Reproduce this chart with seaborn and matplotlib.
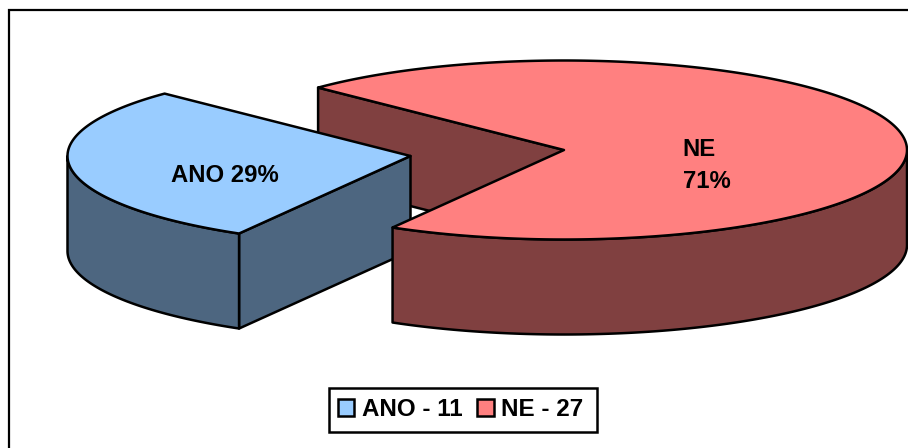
import numpy as np
import matplotlib
matplotlib.use("Agg")
import matplotlib.pyplot as plt
from matplotlib.patches import Polygon, Patch, Rectangle
import seaborn as sns

# Survey answers
categories = ["ANO", "NE"]
counts = [11, 27]
slice_labels = ["ANO 29%", "NE\n71%"]
legend_labels = ["ANO - 11", "NE - 27"]
top_colors = ["#99CCFF", "#FF8080"]
side_colors = ["#4D6680", "#804040"]

sns.set_theme(style="white")
plt.rcParams["font.family"] = ["Liberation Sans", "DejaVu Sans"]
plt.rcParams["text.color"] = "black"

fig, ax = plt.subplots(figsize=(9.08, 4.48), dpi=100)
ax.set_position([0, 0, 1, 1])
ax.set_xlim(0, 908)
ax.set_ylim(448, 0)
ax.axis("off")

# Projection of the tilted disc
RX, RY, DEPTH = 343.0, 89.5, 95.0
CENTER_NE = np.array([564.0, 150.0])
CENTER_ANO = np.array([410.5, 156.0])
START_DEG = 135.8
LW = 1.8


def rim(center, a0, a1, n=200):
    """Points on the elliptical rim; angles grow clockwise on screen."""
    t = np.radians(np.linspace(a0, a1, n))
    return np.column_stack([center[0] + RX * np.cos(t), center[1] - RY * np.sin(t)])


def face(points, color, zorder):
    ax.add_patch(Polygon(points, closed=True, facecolor=color, edgecolor="black",
                         linewidth=LW, joinstyle="round", zorder=zorder))


shares = np.array(counts) / sum(counts) * 360.0
ano_a0, ano_a1 = START_DEG, START_DEG + shares[0]
ne_a0, ne_a1 = ano_a1, ano_a1 + shares[1]
drop = np.array([0.0, DEPTH])

# Inner wall of the large slice, seen through the gap
back_edge = rim(CENTER_NE, ne_a1, ne_a1, 1)[0]
face([back_edge, CENTER_NE, CENTER_NE + drop, back_edge + drop], side_colors[1], 1)

# Detached small slice: cut wall, outer wall, top
front_corner = rim(CENTER_ANO, ano_a1, ano_a1, 1)[0]
face([CENTER_ANO, front_corner, front_corner + drop, CENTER_ANO + drop], side_colors[0], 2)
ano_side = rim(CENTER_ANO, 180.0, ano_a1)
face(np.vstack([ano_side, (ano_side + drop)[::-1]]), side_colors[0], 2)
face(np.vstack([[CENTER_ANO], rim(CENTER_ANO, ano_a0, ano_a1)]), top_colors[0], 3)

# Large slice: outer wall and top
ne_side = rim(CENTER_NE, ne_a0, 360.0)
face(np.vstack([ne_side, (ne_side + drop)[::-1]]), side_colors[1], 4)
face(np.vstack([[CENTER_NE], rim(CENTER_NE, ne_a0, ne_a1, 400)]), top_colors[1], 5)

# Slice labels
text_style = dict(fontsize=17.2, fontweight="bold", color="black", zorder=6)
ax.text(224.5, 175, slice_labels[0], ha="center", va="center", **text_style)
ax.text(682.5, 165.5, slice_labels[1], ha="left", va="center", linespacing=1.45, **text_style)

# Chart frame, open on the right and at the bottom
ax.plot([9, 9, 908], [448, 10, 10], color="black", lw=1.6, zorder=0,
        solid_joinstyle="miter", clip_on=False)

# Legend box and entries
ax.add_patch(Rectangle((329, 388), 268, 44, facecolor="white", edgecolor="black",
                       linewidth=1.8, zorder=7))
handles = [Patch(facecolor=c, edgecolor="black", linewidth=1.8) for c in top_colors]
legend = ax.legend(handles, legend_labels, ncol=2, loc="center left",
                   bbox_to_anchor=(338, 409.5), bbox_transform=ax.transData,
                   frameon=False, labelcolor="black",
                   prop={"size": 17.4, "weight": "bold"},
                   handlelength=0.68, handleheight=0.68, handletextpad=0.3,
                   columnspacing=0.62, borderpad=0, borderaxespad=0)
legend.set_zorder(8)

fig.savefig("out.png", dpi=100, facecolor="white")
